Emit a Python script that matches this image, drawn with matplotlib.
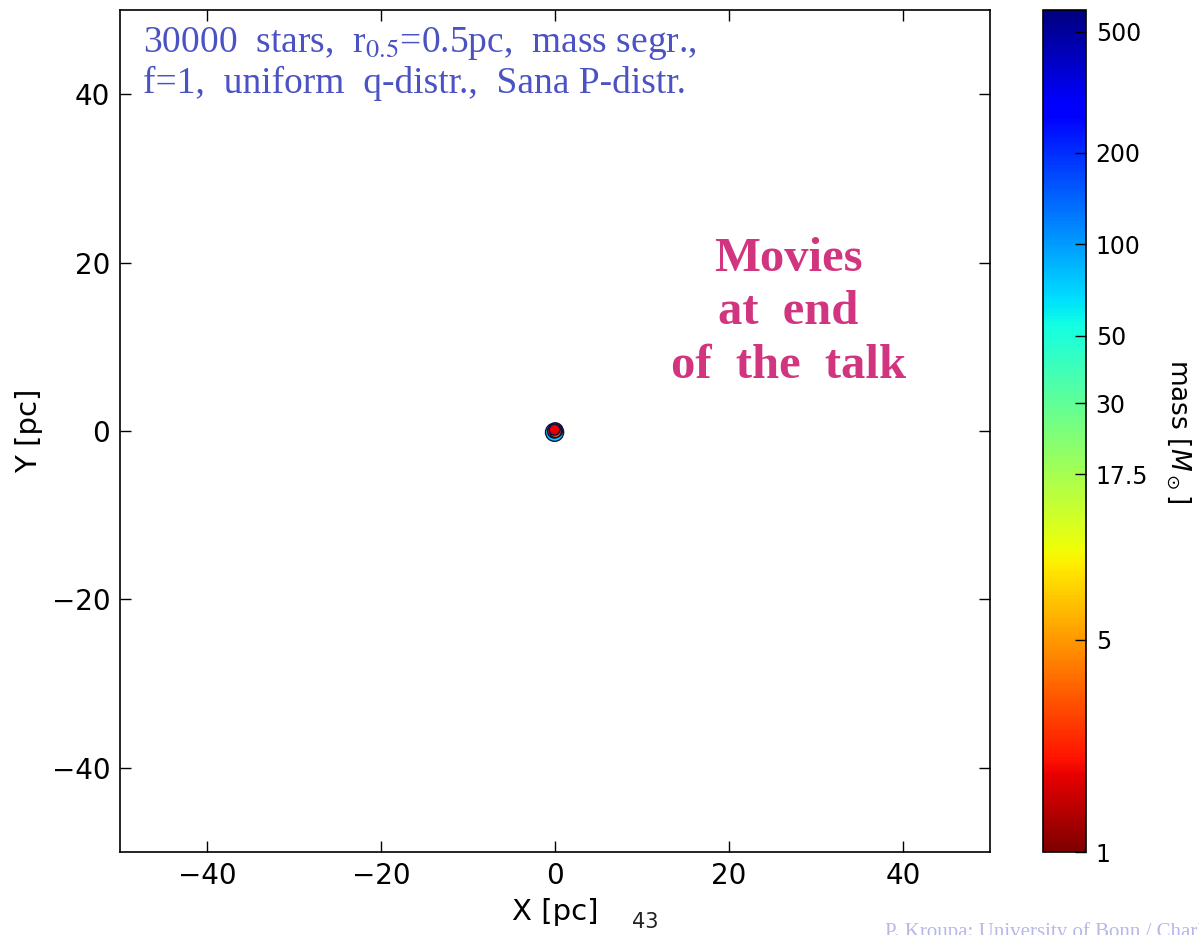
import matplotlib
matplotlib.use("Agg")
import matplotlib.pyplot as plt
import numpy as np
from matplotlib.colors import LogNorm

# Data: stars near the cluster centre (pc) and their masses (Msun)
star_x = [-0.05, 0.05, -0.1, 0.15, 0.05, -0.05]
star_y = [-0.15, 0.1, -0.05, 0.05, -0.1, 0.15]
star_mass = [70.0, 1.5, 2.0, 1.2, 3.0, 1.8]
star_size = [170, 110, 90, 70, 70, 60]

xlim = (-50, 50)
ylim = (-50, 50)
ticks = [-40, -20, 0, 20, 40]
cbar_ticks = [1, 5, 17.5, 30, 50, 100, 200, 500]
cbar_ticklabels = ["1", "5", "17.5", "30", "50", "100", "200", "500"]
mass_min, mass_max = 1, 590

fig = plt.figure(figsize=(11.99, 9.35), dpi=100)
W, H = 1199, 935
ax = fig.add_axes([120 / W, 1 - 852 / H, 870 / W, 842 / H])
cax = fig.add_axes([1043 / W, 1 - 852 / H, 43 / W, 842 / H])

norm = LogNorm(vmin=mass_min, vmax=mass_max)
sc = ax.scatter(star_x, star_y, c=star_mass, s=star_size, cmap="jet_r", norm=norm,
                edgecolors="#101040", linewidths=1.0, zorder=3)

ax.set_xlim(*xlim)
ax.set_ylim(*ylim)
ax.set_xticks(ticks)
ax.set_yticks(ticks)
ax.set_xticklabels([("\u2212%d" % -t) if t < 0 else str(t) for t in ticks])
ax.set_yticklabels([("\u2212%d" % -t) if t < 0 else str(t) for t in ticks])
ax.tick_params(direction="in", length=8, width=1, top=True, right=True,
               labelsize=20, pad=7)
for sp in ax.spines.values():
    sp.set_linewidth(1.2)
ax.set_xlabel("X [pc]", fontsize=21, labelpad=6)
ax.set_ylabel("Y [pc]", fontsize=21, labelpad=6)

cb = fig.colorbar(sc, cax=cax)
cb.set_ticks(cbar_ticks)
cb.set_ticklabels(cbar_ticklabels)
cb.ax.minorticks_off()
cb.ax.tick_params(direction="in", length=8, width=1, labelsize=17, pad=7)
cb.outline.set_linewidth(1.2)
cb.set_label(r"mass [$M_\odot$]", rotation=270, fontsize=19, labelpad=32)

serif = ["Liberation Serif", "DejaVu Serif"]
ax.text(0.026, 0.982, "30000  stars,  r$_{0.5}$=0.5pc,  mass segr.,\nf=1,  uniform  q-distr.,  Sana P-distr.",
        transform=ax.transAxes, ha="left", va="top", fontsize=27,
        family=serif, color="#4b52c4", linespacing=1.15,
        math_fontfamily="stix")
ax.text(0.768, 0.641, "Movies\nat  end\nof  the  talk", transform=ax.transAxes,
        ha="center", va="center", fontsize=35, family=serif, weight="bold",
        color="#d2357f", linespacing=1.28)

fig.text(645 / W, 1 - 922 / H, "43", fontsize=15, ha="center", va="center", color="#222222")
fig.text(885 / W, 1 - 932 / H, "P. Kroupa: University of Bonn / Charles University",
         fontsize=15, family=serif, color="#b8b8e8", ha="left", va="center")

fig.savefig("out.png", dpi=100, facecolor="white")
